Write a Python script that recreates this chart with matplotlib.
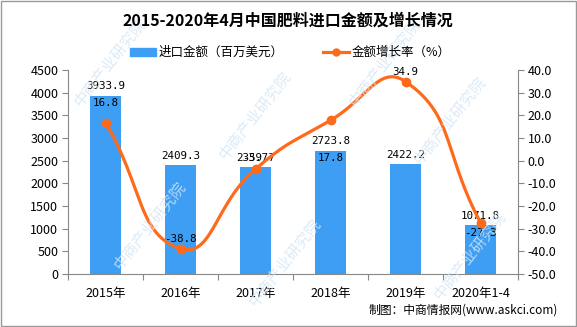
import numpy as np
import matplotlib
matplotlib.use("Agg")
import matplotlib.pyplot as plt
from matplotlib.patches import Rectangle
from matplotlib.lines import Line2D

plt.rcParams['font.family'] = ['Noto Sans CJK SC', 'DejaVu Sans']

categories = ['2015年', '2016年', '2017年', '2018年', '2019年', '2020年1-4']
import_value = [3933.9, 2409.3, 2359.7, 2723.8, 2422.2, 1071.8]
growth_rate = [16.8, -38.8, -3.7, 17.8, 34.9, -27.3]
# where each growth label sits: in = just inside bar top, pt = above marker, out = above bar
growth_label_pos = ['in', 'pt', 'out', 'in', 'pt', 'in']

title = '2015-2020年4月中国肥料进口金额及增长情况'
bar_name = '进口金额（百万美元）'
line_name = '金额增长率（%）'
source = '制图：中商情报网(www.askci.com)'

BLUE = '#3E9EF3'
ORANGE = '#FF6A1A'
GREY = '#888888'

W, H = 577, 327
fig = plt.figure(figsize=(W / 100, H / 100), dpi=100)
ax = fig.add_axes([68 / W, 1 - 274 / H, 450 / W, 204 / H])
ax2 = ax.twinx()

x = np.arange(len(categories))
ax.bar(x, import_value, width=0.42, color=BLUE, zorder=2)
ax.set_xlim(-0.5, len(categories) - 0.5)
ax.set_ylim(0, 4500)
ax.set_yticks(np.arange(0, 4501, 500))
ax2.set_ylim(-50, 40)
ax2.set_yticks(np.arange(-50, 41, 10))
ax2.set_yticklabels(['%.1f' % v for v in np.arange(-50, 41, 10)])

# x ticks at category boundaries, labels at centres
ax.set_xticks(np.arange(-0.5, len(categories)), minor=False)
ax.set_xticklabels([])
ax.set_xticks(x, minor=True)
ax.set_xticklabels(categories, minor=True)
ax.tick_params(axis='x', which='minor', length=0, pad=9, labelsize=9)
ax.tick_params(axis='x', which='major', length=4, color=GREY)
ax.tick_params(axis='y', length=4, color=GREY, labelsize=9, pad=3)
ax2.tick_params(axis='y', length=4, color=GREY, labelsize=9, pad=3)

for a in (ax, ax2):
    a.spines['top'].set_visible(False)
    for s in ('left', 'right', 'bottom'):
        a.spines[s].set_color(GREY)
ax.spines['right'].set_visible(False)
ax2.spines['left'].set_visible(False)
ax2.spines['bottom'].set_visible(False)


# smooth curve (echarts style bezier) computed in pixel space
def smooth_path(px, py, smooth=0.5, n=30):
    pts = np.column_stack([px, py])
    cps = []
    for i in range(len(pts)):
        p = pts[i]
        prev = pts[i - 1] if i > 0 else p
        nxt = pts[i + 1] if i < len(pts) - 1 else p
        v = (nxt - prev) * smooth
        d0 = np.hypot(*(p - prev))
        d1 = np.hypot(*(p - nxt))
        s = d0 + d1
        if s > 0:
            d0, d1 = d0 / s, d1 / s
        cps.append((p - v * d0, p + v * d1))
    out = []
    t = np.linspace(0, 1, n)[:, None]
    for i in range(len(pts) - 1):
        p0, p3 = pts[i], pts[i + 1]
        c1, c2 = cps[i][1], cps[i + 1][0]
        seg = (1 - t) ** 3 * p0 + 3 * (1 - t) ** 2 * t * c1 + 3 * (1 - t) * t ** 2 * c2 + t ** 3 * p3
        out.append(seg)
    return np.vstack(out)


disp = ax2.transData.transform(np.column_stack([x, growth_rate]))
curve = ax2.transData.inverted().transform(smooth_path(disp[:, 0], disp[:, 1]))
ax2.plot(curve[:, 0], curve[:, 1], color=ORANGE, lw=2.3, zorder=3, solid_capstyle='round')
ax2.plot(x, growth_rate, 'o', color=ORANGE, ms=6, zorder=4)

# labels
lab_kw = dict(fontsize=7.8, ha='center', family=['DejaVu Sans Mono'], zorder=5)
for i, v in enumerate(import_value):
    ax.annotate('%.1f' % v, (x[i], v), xytext=(0, 3), textcoords='offset points',
                va='bottom', **lab_kw)
for i, g in enumerate(growth_rate):
    mode = growth_label_pos[i]
    if mode == 'pt':
        ax2.annotate('%.1f' % g, (x[i], g), xytext=(0, 3), textcoords='offset points',
                     va='bottom', **lab_kw)
    elif mode == 'out':
        ax.annotate('%.1f' % g, (x[i], import_value[i]), xytext=(0, 3),
                    textcoords='offset points', va='bottom', **lab_kw)
    else:
        ax.annotate('%.1f' % g, (x[i], import_value[i]), xytext=(0, -2),
                    textcoords='offset points', va='top', **lab_kw)

# title, legend, source
fig.text(288 / W, 1 - 21 / H, title, ha='center', va='center', fontsize=11.5,
         fontweight='bold')
fig.patches.append(Rectangle((130 / W, 1 - 56 / H), 26 / W, 8 / H, color=BLUE,
                             transform=fig.transFigure))
fig.text(159 / W, 1 - 52 / H, bar_name, ha='left', va='center', fontsize=9)
fig.lines.append(Line2D([323 / W, 349 / W], [1 - 52 / H] * 2, color=ORANGE, lw=2.3,
                        transform=fig.transFigure))
fig.lines.append(Line2D([336 / W], [1 - 52 / H], marker='o', ms=5, color=ORANGE,
                        transform=fig.transFigure))
fig.text(352 / W, 1 - 52 / H, line_name, ha='left', va='center', fontsize=9)
fig.text(558 / W, 1 - 310 / H, source, ha='right', va='center', fontsize=8.5)

# watermark
for wx, wy in [(110, 62), (255, 115), (385, 62), (450, 120), (150, 225), (285, 262), (470, 255)]:
    fig.text(wx / W, 1 - wy / H, '中商产业研究院', rotation=52, fontsize=11,
             color='#d3e6f5', alpha=0.8, ha='center', va='center', zorder=0)

fig.patches.append(Rectangle((0.001, 0.002), 0.997, 0.995, fill=False, ec='#999999',
                             lw=1, transform=fig.transFigure))

fig.savefig('out.png', dpi=100)
